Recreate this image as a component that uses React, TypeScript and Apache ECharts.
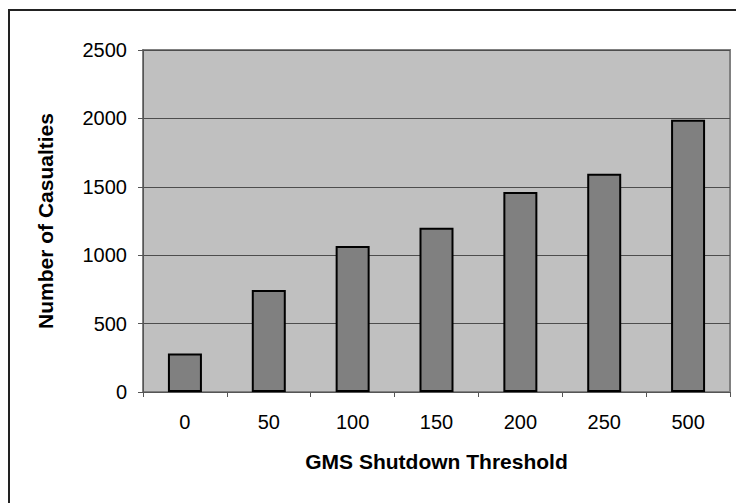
import React, { useEffect, useRef } from "react";
import * as echarts from "echarts";

const categories = ["0", "50", "100", "150", "200", "250", "500"];
const casualties = [281, 745, 1067, 1201, 1462, 1596, 1990];
const yTicks = { min: 0, max: 2500, interval: 500 };
const xTitle = "GMS Shutdown Threshold";
const yTitle = "Number of Casualties";

export default function App() {
  const ref = useRef<HTMLDivElement>(null);
  useEffect(() => {
    if (!ref.current) return;
    const chart = echarts.init(ref.current, null, { renderer: "svg" });
    const font = "'Liberation Sans', Arial, sans-serif";
    chart.setOption({
      animation: false,
      backgroundColor: "#ffffff",
      textStyle: { fontFamily: font },
      graphic: [
        {
          type: "rect",
          shape: { x: 9, y: 10, width: 800, height: 600 },
          style: { fill: "none", stroke: "#222", lineWidth: 2 },
          silent: true,
        },
      ],
      grid: {
        left: 143,
        top: 50,
        right: 6,
        bottom: 111,
        show: true,
        backgroundColor: "#C0C0C0",
        borderColor: "#808080",
        borderWidth: 2,
      },
      xAxis: {
        type: "category",
        data: categories,
        boundaryGap: true,
        name: xTitle,
        nameLocation: "middle",
        nameGap: 59,
        nameTextStyle: { fontFamily: font, fontSize: 21, fontWeight: "bold", color: "#000" },
        axisLine: { show: true, lineStyle: { color: "#555", width: 1 } },
        axisTick: { show: true, alignWithLabel: false, length: 5, inside: false, lineStyle: { color: "#555" } },
        axisLabel: { fontFamily: font, fontSize: 20, color: "#000", margin: 20 },
        splitLine: { show: false },
      },
      yAxis: {
        type: "value",
        min: yTicks.min,
        max: yTicks.max,
        interval: yTicks.interval,
        name: yTitle,
        nameLocation: "middle",
        nameGap: 87,
        nameRotate: 90,
        nameTextStyle: { fontFamily: font, fontSize: 21, fontWeight: "bold", color: "#000" },
        axisLine: { show: true, lineStyle: { color: "#555", width: 1 } },
        axisTick: { show: true, length: 5, lineStyle: { color: "#555" } },
        axisLabel: {
          fontFamily: font,
          fontSize: 20,
          color: "#000",
          margin: 16,
          formatter: (v: number) => String(v),
        },
        splitLine: { show: true, lineStyle: { color: "#4d4d4d", width: 1 } },
      },
      series: [
        {
          type: "bar",
          data: casualties,
          barWidth: 34,
          itemStyle: { color: "#808080", borderColor: "#000", borderWidth: 2 },
          emphasis: { disabled: true },
        },
      ],
    });
    return () => chart.dispose();
  }, []);
  return (
    <div
      ref={ref}
      style={{ position: "fixed", left: 0, top: 0, width: 736, height: 503 }}
    />
  );
}
